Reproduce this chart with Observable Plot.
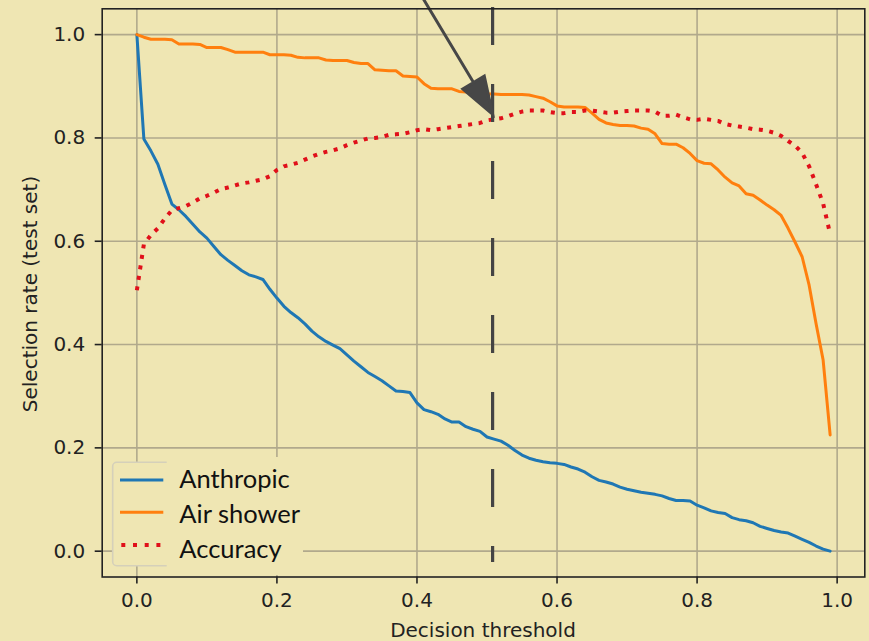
<!DOCTYPE html>
<html><head><meta charset="utf-8">
<script src="https://cdn.jsdelivr.net/npm/d3@7"></script>
<script src="https://cdn.jsdelivr.net/npm/@observablehq/plot@0.6"></script>
<style>
html,body{margin:0;padding:0;background:#efe6b3;}
#chart svg{display:block;}
</style></head><body><div id="chart"></div>
<script>
// ---- data ----
const thresholds = [0.00,0.01,0.02,0.03,0.04,0.05,0.06,0.07,0.08,0.09,0.10,0.11,0.12,0.13,0.14,0.15,0.16,0.17,0.18,0.19,0.20,0.21,0.22,0.23,0.24,0.25,0.26,0.27,0.28,0.29,0.30,0.31,0.32,0.33,0.34,0.35,0.36,0.37,0.38,0.39,0.40,0.41,0.42,0.43,0.44,0.45,0.46,0.47,0.48,0.49,0.50,0.51,0.52,0.53,0.54,0.55,0.56,0.57,0.58,0.59,0.60,0.61,0.62,0.63,0.64,0.65,0.66,0.67,0.68,0.69,0.70,0.71,0.72,0.73,0.74,0.75,0.76,0.77,0.78,0.79,0.80,0.81,0.82,0.83,0.84,0.85,0.86,0.87,0.88,0.89,0.90,0.91,0.92,0.93,0.94,0.95,0.96,0.97,0.98,0.99];
const anthropic = [1.000,0.798,0.775,0.749,0.710,0.672,0.661,0.648,0.633,0.618,0.606,0.590,0.574,0.563,0.553,0.543,0.535,0.531,0.526,0.507,0.490,0.474,0.462,0.452,0.440,0.426,0.415,0.406,0.399,0.392,0.380,0.368,0.357,0.346,0.338,0.330,0.320,0.310,0.309,0.307,0.287,0.274,0.270,0.265,0.256,0.250,0.250,0.241,0.236,0.232,0.221,0.217,0.213,0.205,0.195,0.186,0.180,0.176,0.173,0.171,0.170,0.168,0.163,0.159,0.153,0.144,0.137,0.134,0.130,0.124,0.120,0.117,0.114,0.112,0.110,0.107,0.102,0.098,0.098,0.097,0.089,0.084,0.078,0.075,0.073,0.065,0.061,0.059,0.055,0.048,0.044,0.040,0.037,0.035,0.029,0.023,0.017,0.010,0.004,0.000];
const airShower = [1.000,0.995,0.991,0.991,0.991,0.990,0.982,0.982,0.982,0.981,0.975,0.975,0.975,0.971,0.966,0.966,0.966,0.966,0.966,0.961,0.961,0.961,0.960,0.956,0.955,0.955,0.955,0.951,0.950,0.950,0.950,0.946,0.944,0.944,0.932,0.931,0.930,0.930,0.920,0.919,0.918,0.905,0.896,0.895,0.895,0.895,0.890,0.889,0.888,0.888,0.885,0.885,0.884,0.884,0.884,0.884,0.883,0.880,0.877,0.870,0.862,0.860,0.860,0.860,0.859,0.848,0.836,0.829,0.826,0.824,0.824,0.823,0.819,0.817,0.808,0.789,0.788,0.788,0.781,0.770,0.756,0.751,0.750,0.738,0.724,0.713,0.707,0.692,0.689,0.680,0.670,0.661,0.650,0.625,0.598,0.570,0.515,0.440,0.370,0.225];
const accuracy = [0.505,0.594,0.612,0.625,0.644,0.660,0.664,0.668,0.675,0.683,0.688,0.694,0.701,0.704,0.708,0.712,0.714,0.717,0.720,0.726,0.738,0.745,0.748,0.752,0.758,0.764,0.769,0.773,0.776,0.780,0.786,0.791,0.795,0.799,0.800,0.802,0.806,0.807,0.808,0.811,0.815,0.817,0.815,0.817,0.819,0.821,0.823,0.825,0.827,0.829,0.834,0.836,0.838,0.842,0.847,0.851,0.853,0.853,0.853,0.850,0.848,0.848,0.850,0.850,0.853,0.853,0.851,0.849,0.849,0.851,0.852,0.853,0.853,0.853,0.851,0.843,0.843,0.845,0.840,0.836,0.835,0.837,0.835,0.833,0.827,0.824,0.822,0.820,0.817,0.816,0.814,0.810,0.804,0.794,0.785,0.771,0.745,0.710,0.673,0.614];
const tickValues = [0.0,0.2,0.4,0.6,0.8,1.0];
const seriesNames = ["Anthropic","Air shower","Accuracy"];
const seriesColors = ["#1f77b4","#ff7f0e","#e0101a"];
const chosenThreshold = [0.508];
const arrowTip = [{x:0.508, y:0.846}];
const dashTop = 1.0525, dashBottom = -0.022;

const rows = thresholds.map((t,i)=>({t, anthropic:anthropic[i], air:airShower[i], acc:accuracy[i]}));
const bg = "#efe6b3";
const ink = "#222";
const fmt = d3.format(".1f");

const arrowShape = {
  draw(ctx, l) {
    const hl = 37, hw = 25;
    ctx.moveTo(0, 0);
    ctx.lineTo(0, -l + hl);
    ctx.moveTo(-hw/2, -l + hl);
    ctx.lineTo(0, -l);
    ctx.lineTo(hw/2, -l + hl);
    ctx.closePath();
  }
};

const plot = Plot.plot({
  width: 869, height: 641,
  marginLeft: 101.7, marginRight: 4.7, marginTop: 8.3, marginBottom: 64.5,
  style: {background: bg, fontFamily: "'DejaVu Sans', sans-serif", fontSize: "20px", color: ink, overflow: "visible"},
  x: {domain: [-0.0495, 1.0395]},
  y: {domain: [-0.05, 1.05]},
  marks: [
    Plot.gridX(tickValues, {stroke: "#b1a98c", strokeOpacity: 1, strokeWidth: 1.6}),
    Plot.gridY(tickValues, {stroke: "#b1a98c", strokeOpacity: 1, strokeWidth: 1.6}),
    Plot.axisX(tickValues, {tickSize: 7, tickPadding: 9, tickFormat: fmt, label: null, strokeWidth: 1.6, fill: ink}),
    Plot.axisY(tickValues, {tickSize: 7, tickPadding: 10, tickFormat: fmt, label: null, strokeWidth: 1.6, fill: ink}),
    Plot.line(rows, {x: "t", y: "anthropic", stroke: seriesColors[0], strokeWidth: 3}),
    Plot.line(rows, {x: "t", y: "air", stroke: seriesColors[1], strokeWidth: 3}),
    Plot.line(rows, {x: "t", y: "acc", stroke: seriesColors[2], strokeWidth: 4, strokeDasharray: "4,6.6", strokeLinecap: "butt"}),
    Plot.ruleX(chosenThreshold, {x: d => d, y1: dashTop, y2: dashBottom, stroke: "#444", strokeWidth: 3.2, strokeDasharray: "38,39"}),
    Plot.vector(arrowTip, {x: "x", y: "y", length: 165, rotate: 149, anchor: "end", shape: arrowShape, stroke: "#474747", fill: "#474747", strokeWidth: 3, strokeLinejoin: "miter", strokeLinecap: "butt"}),
    Plot.frame({stroke: ink, strokeWidth: 1.6})
  ]
});

const svg = d3.select(plot);
// axis labels
svg.append("text").attr("x", 483).attr("y", 636.7).attr("text-anchor", "middle")
  .attr("fill", ink).style("font-family", "'DejaVu Sans', sans-serif").style("font-size", "20px")
  .text("Decision threshold");
svg.append("text").attr("transform", "translate(36.7,294) rotate(-90)").attr("text-anchor", "middle")
  .attr("fill", ink).style("font-family", "'DejaVu Sans', sans-serif").style("font-size", "20px")
  .text("Selection rate (test set)");

// legend
const lg = svg.append("g");
lg.append("rect").attr("x", 112.7).attr("y", 462.3).attr("width", 150).attr("height", 103.4).attr("rx", 4)
  .attr("fill", bg).attr("stroke", "#d5d0ba").attr("stroke-width", 1.6);
lg.append("rect").attr("x", 166.7).attr("y", 457).attr("width", 136.3).attr("height", 118).attr("fill", bg);
const rowY = [480, 512.3, 545];
const baseY = [488.3, 522.7, 557.7];
seriesNames.forEach((name, i) => {
  const ln = lg.append("line").attr("x1", i === 2 ? 121.3 : 120).attr("x2", i === 2 ? 161 : 163.3)
    .attr("y1", rowY[i]).attr("y2", rowY[i]).attr("stroke", seriesColors[i]).attr("stroke-width", i === 2 ? 4 : 3);
  if (i === 2) ln.attr("stroke-dasharray", "4,7.7");
  lg.append("text").attr("x", 179.3).attr("y", baseY[i]).attr("fill", "#111").attr("text-anchor", "start")
    .style("text-anchor", "start")
    .style("font-family", "Lato, 'Open Sans', sans-serif").style("font-size", "25.5px").text(name);
});

document.getElementById("chart").appendChild(plot);
</script></body></html>
